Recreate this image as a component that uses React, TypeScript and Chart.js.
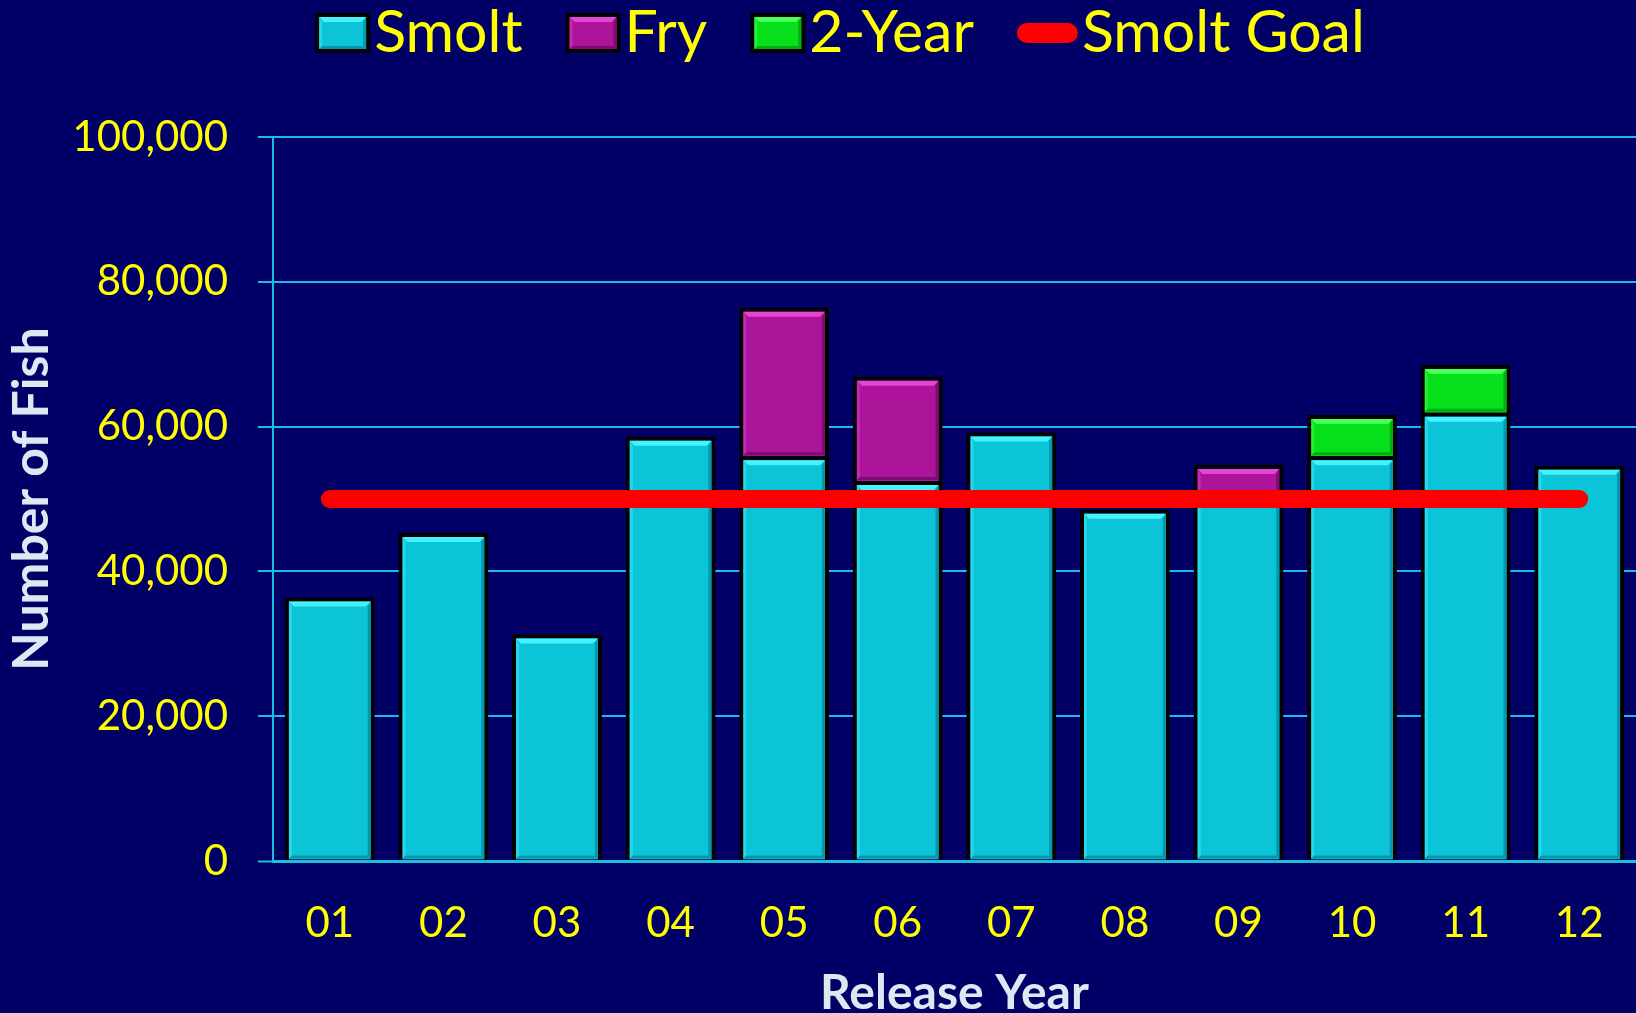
import React, { useEffect, useRef } from "react";
import { Chart, registerables } from "chart.js";

Chart.register(...registerables);

// ---------- data ----------
const releaseYears = ["01", "02", "03", "04", "05", "06", "07", "08", "09", "10", "11", "12"];
const smoltCounts = [36400, 45300, 31300, 58600, 55900, 52500, 59200, 48500, 50400, 55900, 61900, 54600];
const fryCounts = [null, null, null, null, 20500, 14400, null, null, 4300, null, null, null];
const twoYearCounts = [null, null, null, null, null, null, null, null, null, 5700, 6600, null];
const smoltGoal = [50000, 50000, 50000, 50000, 50000, 50000, 50000, 50000, 50000, 50000, 50000, 50000];
const seriesNames = ["Smolt", "Fry", "2-Year", "Smolt Goal"];
const yAxisMin = 0;
const yAxisMax = 100000;
const yAxisStep = 20000;
const xAxisTitle = "Release Year";
const yAxisTitle = "Number of Fish";

// ---------- styles ----------
const W = 1636;
const H = 1013;
const NAVY = "#000066";
const YELLOW = "#ffff00";
const GRID = "#1bbfd9";
const AXIS_TITLE = "#dce9f3";
const FONT = "Lato, 'Open Sans', sans-serif";
const BAR_STYLES = [
  { fill: "#0cc4d8", light: "#45f3ff", dark: "#0897aa" },
  { fill: "#ac1499", light: "#e545d6", dark: "#7d0c70" },
  { fill: "#06e01a", light: "#4bff5a", dark: "#04ad14" },
];
const GOAL_COLOR = "#ff0000";

function drawBevel(ctx: CanvasRenderingContext2D, l: number, t: number, r: number, b: number, light: string, dark: string) {
  const w = r - l;
  const h = b - t;
  if (w <= 2 || h <= 2) return;
  const d = Math.min(5, h / 3, w / 3);
  const e = Math.min(3, h / 4, w / 4);
  ctx.save();
  ctx.fillStyle = light;
  ctx.beginPath();
  ctx.moveTo(l, t);
  ctx.lineTo(r, t);
  ctx.lineTo(r - d, t + d);
  ctx.lineTo(l + d, t + d);
  ctx.closePath();
  ctx.fill();
  ctx.fillStyle = dark;
  ctx.beginPath();
  ctx.moveTo(l, b);
  ctx.lineTo(r, b);
  ctx.lineTo(r - e, b - e);
  ctx.lineTo(l + e, b - e);
  ctx.closePath();
  ctx.fill();
  ctx.beginPath();
  ctx.moveTo(r, t);
  ctx.lineTo(r, b);
  ctx.lineTo(r - e, b - e);
  ctx.lineTo(r - e, t + d);
  ctx.closePath();
  ctx.fill();
  ctx.globalAlpha = 0.45;
  ctx.fillStyle = light;
  ctx.beginPath();
  ctx.moveTo(l, t);
  ctx.lineTo(l + e, t + d);
  ctx.lineTo(l + e, b - e);
  ctx.lineTo(l, b);
  ctx.closePath();
  ctx.fill();
  ctx.restore();
}

const backgroundPlugin = {
  id: "navyBackground",
  beforeDraw(chart: any) {
    const ctx = chart.ctx;
    ctx.save();
    ctx.fillStyle = NAVY;
    ctx.fillRect(0, 0, chart.width, chart.height);
    ctx.restore();
  },
};

const bevelPlugin = {
  id: "barBevel",
  beforeDatasetDraw(chart: any, args: any) {
    if (args.meta.type !== "bar") return;
    const ctx = chart.ctx;
    ctx.save();
    ctx.shadowColor = "rgba(0,0,0,0.35)";
    ctx.shadowBlur = 14;
    ctx.shadowOffsetX = 8;
    ctx.shadowOffsetY = 0;
  },
  afterDatasetDraw(chart: any, args: any) {
    if (args.meta.type !== "bar") return;
    const ctx = chart.ctx;
    ctx.restore();
    const style = BAR_STYLES[args.index];
    const ds = chart.data.datasets[args.index];
    const bw = ds.borderWidth || 0;
    const skipBottom = ds.borderSkipped !== false;
    args.meta.data.forEach((el: any, i: number) => {
      const v = ds.data[i];
      if (v === null || v === undefined) return;
      const { x, y, base, width } = el.getProps(["x", "y", "base", "width"], true);
      const top = Math.min(y, base);
      const bottom = Math.max(y, base);
      const l = x - width / 2 + bw;
      const r = x + width / 2 - bw;
      const t = top + bw;
      const b = bottom - (skipBottom ? 1 : bw);
      drawBevel(ctx, l, t, r, b, style.light, style.dark);
    });
  },
};

const legendPlugin = {
  id: "topLegend",
  afterDraw(chart: any) {
    const ctx = chart.ctx;
    const datasets = chart.data.datasets;
    const fontSize = 59;
    const boxW = 55;
    const boxH = 40;
    const boxGap = 4;
    const itemGap = 43;
    const lineW = 61;
    const boxTop = 13;
    const baseline = 52;
    ctx.save();
    ctx.font = `${fontSize}px ${FONT}`;
    const items = datasets.map((ds: any) => {
      const isLine = ds.type === "line";
      const tw = ctx.measureText(ds.label).width;
      const symW = isLine ? lineW : boxW;
      return { ds, isLine, tw, symW, width: symW + boxGap + tw };
    });
    const total = items.reduce((s: number, it: any) => s + it.width, 0) + itemGap * (items.length - 1);
    let x = 840 - total / 2;
    items.forEach((it: any, idx: number) => {
      if (it.isLine) {
        ctx.strokeStyle = it.ds.borderColor;
        ctx.lineWidth = 20;
        ctx.lineCap = "round";
        ctx.beginPath();
        ctx.moveTo(x + 10, boxTop + boxH / 2);
        ctx.lineTo(x + lineW - 10, boxTop + boxH / 2);
        ctx.stroke();
      } else {
        const st = BAR_STYLES[idx];
        ctx.fillStyle = "#000000";
        ctx.fillRect(x, boxTop, boxW, boxH);
        ctx.fillStyle = it.ds.backgroundColor;
        ctx.fillRect(x + 4, boxTop + 4, boxW - 8, boxH - 8);
        drawBevel(ctx, x + 4, boxTop + 4, x + boxW - 4, boxTop + boxH - 4, st.light, st.dark);
      }
      ctx.fillStyle = YELLOW;
      ctx.textBaseline = "alphabetic";
      ctx.textAlign = "left";
      ctx.fillText(it.ds.label, x + it.symW + boxGap, baseline);
      x += it.width + itemGap;
    });
    ctx.restore();
  },
};

export default function App() {
  const canvasRef = useRef<HTMLCanvasElement>(null);

  useEffect(() => {
    document.body.style.margin = "0";
    document.body.style.background = NAVY;
    const canvas = canvasRef.current;
    if (!canvas) return;
    const barCommon = {
      borderColor: "#000000",
      borderWidth: 4,
      borderSkipped: "start",
      categoryPercentage: 1,
      barPercentage: 0.79,
      order: 1,
    };
    const chart = new Chart(canvas, {
      type: "bar",
      data: {
        labels: releaseYears,
        datasets: [
          { type: "bar", label: seriesNames[0], data: smoltCounts, backgroundColor: BAR_STYLES[0].fill, ...barCommon },
          { type: "bar", label: seriesNames[1], data: fryCounts, backgroundColor: BAR_STYLES[1].fill, ...barCommon },
          { type: "bar", label: seriesNames[2], data: twoYearCounts, backgroundColor: BAR_STYLES[2].fill, ...barCommon },
          {
            type: "line",
            label: seriesNames[3],
            data: smoltGoal,
            borderColor: GOAL_COLOR,
            backgroundColor: GOAL_COLOR,
            borderWidth: 18,
            borderCapStyle: "round",
            pointRadius: 0,
            fill: false,
            stack: "goal",
            order: 0,
          },
        ] as any,
      },
      options: {
        responsive: false,
        animation: false,
        devicePixelRatio: 1,
        events: [],
        layout: { autoPadding: false, padding: { top: 137, left: 0, right: 0, bottom: 0 } },
        plugins: {
          legend: { display: false },
          tooltip: { enabled: false },
        },
        scales: {
          x: {
            stacked: true,
            grid: { display: false, drawTicks: false },
            border: { display: false },
            ticks: {
              color: YELLOW,
              font: { family: FONT, size: 42 },
              padding: 37,
              maxRotation: 0,
            },
            title: {
              display: true,
              text: xAxisTitle,
              color: AXIS_TITLE,
              font: { family: FONT, size: 48, weight: "bold", lineHeight: 0.81 },
              padding: 0,
            },
            afterFit: (s: any) => {
              s.height = 152;
              s.paddingLeft = 0;
              s.paddingRight = 0;
            },
          },
          y: {
            stacked: true,
            min: yAxisMin,
            max: yAxisMax,
            ticks: {
              stepSize: yAxisStep,
              color: YELLOW,
              font: { family: FONT, size: 42 },
              padding: 30,
              callback: (v: any) => Number(v).toLocaleString("en-US"),
            },
            grid: {
              color: GRID,
              lineWidth: (c: any) => (c.tick && c.tick.value === 0 ? 3 : 2),
              drawTicks: true,
              tickLength: 15,
              tickColor: GRID,
              tickWidth: 2,
            },
            border: { display: true, color: GRID, width: 2 },
            title: {
              display: true,
              text: yAxisTitle,
              color: AXIS_TITLE,
              font: { family: FONT, size: 50, weight: "bold", lineHeight: 1.0 },
              padding: { top: 7, bottom: 0 },
            },
            afterFit: (s: any) => {
              s.width = 273;
            },
          },
        },
      } as any,
      plugins: [backgroundPlugin, bevelPlugin, legendPlugin],
    });
    return () => chart.destroy();
  }, []);

  return (
    <div style={{ position: "fixed", left: 0, top: 0, width: W, height: H, background: NAVY }}>
      <canvas ref={canvasRef} width={W} height={H} style={{ display: "block", width: W, height: H }} />
    </div>
  );
}
